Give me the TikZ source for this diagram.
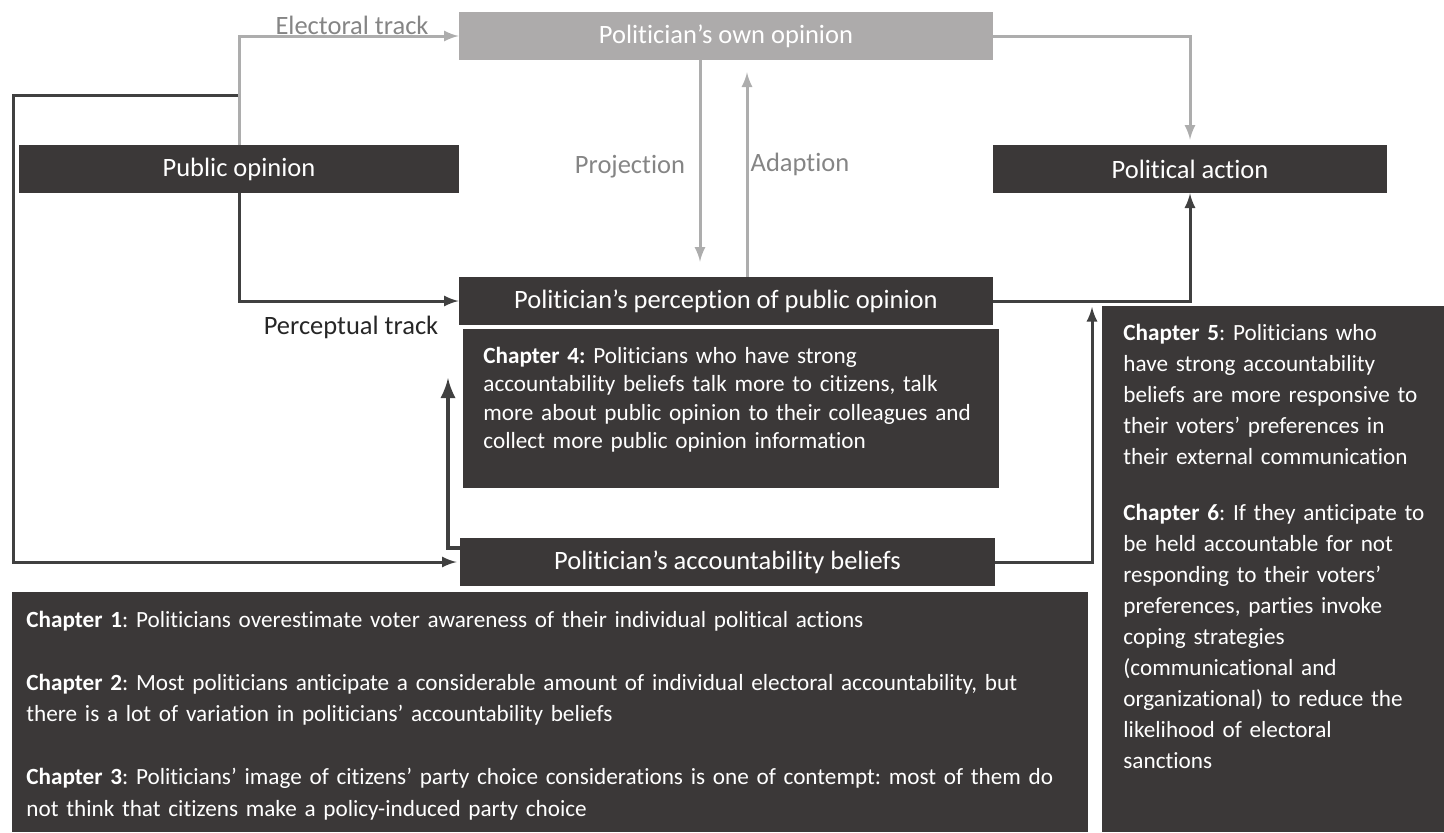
\documentclass[tikz,border=0pt]{standalone}
\usepackage{fontspec}
\setmainfont{Carlito}[Ligatures = NoCommon]
\usepackage{tikz}
\usetikzlibrary{arrows}
\definecolor{mdark}{rgb}{0.23, 0.22, 0.22}
\definecolor{mgrey}{rgb}{0.68, 0.67, 0.67}
\definecolor{mline}{rgb}{0.25, 0.25, 0.25}
\definecolor{mlgrey}{rgb}{0.68, 0.68, 0.68}
\definecolor{mlabel}{rgb}{0.52, 0.52, 0.52}
\tikzset{box/.style = {fill = mdark, text = white, minimum height = 24pt, inner sep = 0, font = \fontsize{13.25}{16}\selectfont}}
\tikzset{greybox/.style = {box, fill = mgrey}}
\tikzset{chap/.style = {fill = mdark, text = white, anchor = north west, align = left, inner ysep = 0}}
\tikzset{dline/.style = {draw = mline, line width = 1.5pt, -latex}}
\tikzset{gline/.style = {draw = mlgrey, line width = 1.5pt, -latex}}
\tikzset{tracktext/.style = {font = \fontsize{13.25}{16}\selectfont}}
\frenchspacing

\begin{document}
\begin{tikzpicture}[x = 0.5pt, y = -0.5pt]
      \useasboundingbox (0, 0) rectangle (1444, 832);

      \node [greybox, minimum width = 267pt] (own) at (726, 36) {Politician’s own opinion};
      \node [box, minimum width = 220pt] (public) at (239, 169) {Public opinion};
      \node [box, minimum width = 197pt] (action) at (1190, 169) {Political action};
      \node [box, minimum width = 267pt] (perception) at (726, 301) {Politician’s perception of public opinion};
      \node [box, minimum width = 267.5pt] (belief) at (727.5, 562) {Politician’s accountability beliefs};

      \node [chap, text width = 248pt, inner xsep = 10pt, text height = 17pt, text depth = 62.5pt,
        font = \fontsize{11.6}{14.25}\selectfont] (chapfour) at (463, 329)
        {\textbf{Chapter 4:} Politicians who have strong\\
         accountability beliefs talk more to citizens, talk\\
         more about public opinion to their colleagues and\\
         collect more public opinion information};
      \node [chap, text width = 524pt, inner xsep = 7pt, text height = 17.5pt, text depth = 102.5pt,
        font = \fontsize{11.6}{15.75}\selectfont] (chapone) at (12, 592)
        {\textbf{Chapter 1}: Politicians overestimate voter awareness of their individual political actions\\[15.75pt]
         \textbf{Chapter 2}: Most politicians anticipate a considerable amount of individual electoral accountability, but\\
         there is a lot of variation in politicians’ accountability beliefs\\[15.75pt]
         \textbf{Chapter 3}: Politicians’ image of citizens’ party choice considerations is one of contempt: most of them do\\
         not think that citizens make a policy-induced party choice};
      \node [chap, text width = 160pt, inner xsep = 10.5pt, text height = 17pt, text depth = 246pt,
        font = \fontsize{11.6}{15.5}\selectfont] (chapfive) at (1102, 306)
        {\textbf{Chapter 5}: Politicians who\\
         have strong accountability\\
         beliefs are more responsive to\\
         their voters’ preferences in\\
         their external communication\\[12.5pt]
         \textbf{Chapter 6}: If they anticipate to\\
         be held accountable for not\\
         responding to their voters’\\
         preferences, parties invoke\\
         coping strategies\\
         (communicational and\\
         organizational) to reduce the\\
         likelihood of electoral\\
         sanctions};

      \node [tracktext, mlabel] (electoral) at (352, 25) {Electoral track};
      \node [tracktext, mlabel] (projection) at (630, 167) {Projection};
      \node [tracktext, mlabel] (adaption) at (800, 164) {Adaption};
      \node [tracktext, black!85] (perceptual) at (351, 327) {Perceptual track};

      \coordinate (split) at (238, 95);
      \coordinate (leftedge) at (13, 0);
      \coordinate (projx) at (700, 0);
      \coordinate (adapx) at (747, 0);
      \coordinate (meetx) at (1092, 0);
      \coordinate (fourtip) at (448, 378);

      \draw [gline] (public.north) |- (own.west);
      \draw [gline, shorten > = 2.5pt] (own.east) -| (action.north);
      \draw [gline, shorten > = 7.5pt] (own.south -| projx) -- (perception.north -| projx);
      \draw [gline, shorten > = 6pt] (perception.north -| adapx) -- (own.south -| adapx);
      \draw [dline, shorten > = 1.5pt] (split) -- (split -| leftedge) |- (belief.west);
      \draw [dline] (public.south) |- (perception.west);
      \draw [dline] (perception.east) -| (action.south);
      \draw [dline, shorten > = 3pt] (belief.east) -| (perception.east -| meetx);
      \draw [dline, line width = 2.4pt] ([yshift = 7pt]belief.west) -| (fourtip);
    \end{tikzpicture}
\end{document}
